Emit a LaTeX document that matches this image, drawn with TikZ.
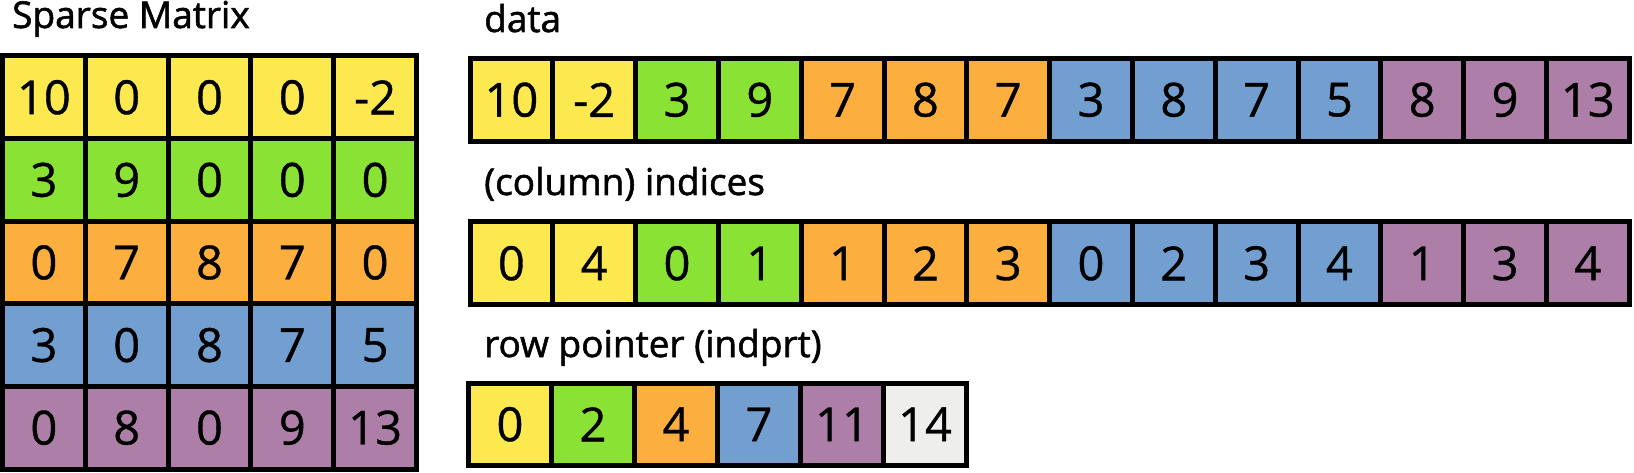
\documentclass[tikz,border=0pt]{standalone}
\usepackage{fontspec}
\setmainfont{Open Sans}
\newfontfamily\lblfont{Open Sans}[FakeBold=1.5]
\newfontfamily\numfont{Open Sans}[FakeBold=0.8]
\begin{document}
\begin{tikzpicture}[x=1pt,y=-1pt,
  cell/.style={draw=black,line width=5pt,minimum width=82.8pt,minimum height=82.6pt,inner sep=0pt,font=\numfont\fontsize{47}{50}\selectfont},
  lbl/.style={anchor=base west,inner sep=0pt,font=\lblfont\fontsize{37}{42}\selectfont},
  cY/.style={fill=cyel},cG/.style={fill=cgrn},cO/.style={fill=corg},
  cB/.style={fill=cblu},cP/.style={fill=cpur},cW/.style={fill=cgry}]
\definecolor{cyel}{HTML}{FCE94F}
\definecolor{cgrn}{HTML}{8AE234}
\definecolor{corg}{HTML}{FCAF3E}
\definecolor{cblu}{HTML}{729FCF}
\definecolor{cpur}{HTML}{AD7FA8}
\definecolor{cgry}{HTML}{EEEEEC}
\useasboundingbox (0,0) rectangle (1634,473);
% titles
\node[lbl] (tm) at (12,28) {Sparse Matrix};
\node[lbl] (td) at (484,32) {data};
\node[lbl] (ti) at (484,195) {(column) indices};
\node[lbl] (tp) at (484,357) {row pointer (indprt)};
% matrix
\foreach \row/\st/\vals in {1/cY/{10,0,0,0,-2},2/cG/{3,9,0,0,0},3/cO/{0,7,8,7,0},4/cB/{3,0,8,7,5},5/cP/{0,8,0,9,13}}{
  \foreach \v [count=\c] in \vals {
    \node[cell,\st] (m-\row-\c) at ({2.5+82.8*(\c-0.5)},{56+82.6*(\row-0.5)}) {\v};
  }
}
% data
\foreach \v/\st [count=\i] in {10/cY,-2/cY,3/cG,9/cG,7/cO,8/cO,7/cO,3/cB,8/cB,7/cB,5/cB,8/cP,9/cP,13/cP}{
  \node[cell,\st] (d-\i) at ({470+82.8*(\i-0.5)},{58.5+41.3}) {\v};
}
% indices
\foreach \v/\st [count=\i] in {0/cY,4/cY,0/cG,1/cG,1/cO,2/cO,3/cO,0/cB,2/cB,3/cB,4/cB,1/cP,3/cP,4/cP}{
  \node[cell,\st] (c-\i) at ({470+82.8*(\i-0.5)},{222+41.3}) {\v};
}
% row pointer
\foreach \v/\st [count=\i] in {0/cY,2/cG,4/cO,7/cB,11/cP,14/cW}{
  \node[cell,\st] (p-\i) at ({468.5+83*(\i-0.5)},{383+41.3}) {\v};
}
\end{tikzpicture}
\end{document}
